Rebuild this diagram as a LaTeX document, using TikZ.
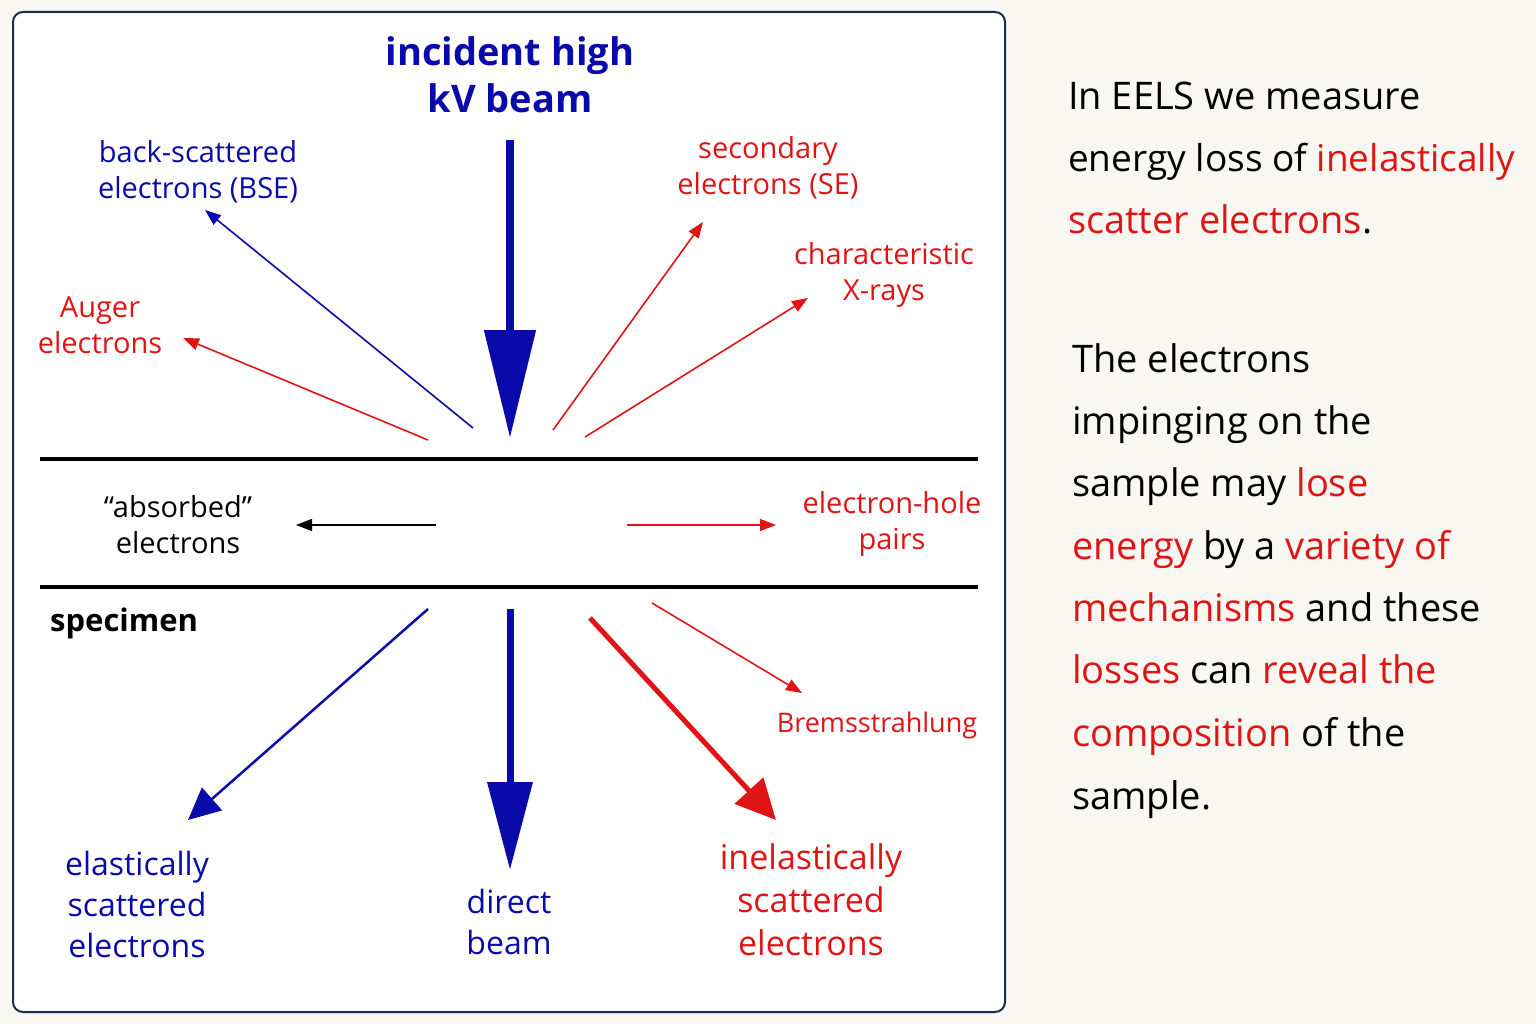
\documentclass[tikz,border=0pt]{standalone}
\usepackage{fontspec}
\setmainfont{Open Sans}
\usetikzlibrary{arrows.meta}
\definecolor{bl}{HTML}{0A0AAA}
\definecolor{rd}{HTML}{E01414}
\definecolor{bg}{HTML}{F8F7F1}
\definecolor{frame}{HTML}{1E2A4A}
\begin{document}
\begin{tikzpicture}[x=1pt,y=-1pt,
  lab/.style={align=center,inner sep=0pt,font=\fontsize{29}{36}\selectfont},
  big/.style={align=center,inner sep=0pt,font=\fontsize{32}{41}\selectfont},
  thin/.style={line width=1.6pt,-{Triangle[length=16pt,width=12pt]}},
  rt/.style={anchor=base west,inner sep=0pt,font=\fontsize{38}{48}\selectfont}]
\useasboundingbox (0,0) rectangle (1536,1024);
\fill[bg] (0,0) rectangle (1536,1024);
\draw[frame,line width=2pt,fill=white,rounded corners=10pt] (13,12) rectangle (1005,1012);
% title
\node[big,text=bl,font=\bfseries\fontsize{38}{47}\selectfont] (title) at (510,75) {incident high\\kV beam};
\coordinate (b0) at (510,140); \coordinate (b1) at (510,438);
\draw[bl,line width=8pt,-{Triangle[length=108pt,width=50pt]}] (b0) -- (b1);
% specimen lines
\coordinate (l1a) at (40,459); \coordinate (l1b) at (978,459);
\coordinate (l2a) at (40,587); \coordinate (l2b) at (978,587);
\draw[line width=4pt] (l1a) -- (l1b);
\draw[line width=4pt] (l2a) -- (l2b);
% labels
\node[lab,text=bl] (bse) at (198,172) {back-scattered\\electrons (BSE)};
\node[lab,text=rd] (aug) at (100,325) {Auger\\electrons};
\node[lab,text=rd] (se) at (768,168) {secondary\\electrons (SE)};
\node[lab,text=rd] (xr) at (884,275) {characteristic\\X-rays};
\node[lab] (abs) at (178,525) {“absorbed”\\electrons};
\node[lab,text=rd] (eh) at (892,524) {electron-hole\\pairs};
\node[lab,font=\bfseries\fontsize{31}{36}\selectfont,anchor=west] (spec) at (50,623) {specimen};
\node[big,text=bl] (el) at (137,904) {elastically\\scattered\\electrons};
\node[big,text=bl] (dir) at (509,922) {direct\\beam};
\node[big,text=rd,font=\fontsize{34}{43}\selectfont] (inel) at (811,900) {inelastically\\scattered\\electrons};
\node[lab,text=rd,font=\fontsize{27}{36}\selectfont] (brem) at (877,725) {Bremsstrahlung};
% arrows
\coordinate (s1) at (473,428); \coordinate (e1) at (205,210);
\draw[bl,thin] (s1) -- (e1);
\coordinate (s2) at (428,440); \coordinate (e2) at (183,338);
\draw[rd,thin] (s2) -- (e2);
\coordinate (s3) at (553,430); \coordinate (e3) at (703,222);
\draw[rd,thin] (s3) -- (e3);
\coordinate (s4) at (585,437); \coordinate (e4) at (808,298);
\draw[rd,thin] (s4) -- (e4);
\coordinate (s5) at (436,525); \coordinate (e5) at (296,525);
\draw[black,thin] (s5) -- (e5);
\coordinate (s6) at (627,525); \coordinate (e6) at (776,525);
\draw[rd,thin] (s6) -- (e6);
\coordinate (s7) at (652,603); \coordinate (e7) at (802,693);
\draw[rd,thin] (s7) -- (e7);
\coordinate (s8) at (428,609); \coordinate (e8) at (188,820);
\draw[bl,line width=2.5pt,-{Triangle[length=32pt,width=30pt]}] (s8) -- (e8);
\coordinate (s9) at (510,609); \coordinate (e9) at (510,870);
\draw[bl,line width=7pt,-{Triangle[length=88pt,width=44pt]}] (s9) -- (e9);
\coordinate (s10) at (590,618); \coordinate (e10) at (776,820);
\draw[rd,line width=5pt,-{Triangle[length=40pt,width=38pt]}] (s10) -- (e10);
% right text
\node[rt] (p1) at (1068,110) {In EELS we measure};
\node[rt,font=\fontsize{37}{48}\selectfont] (p2) at (1068,172) {energy loss of \textcolor{rd}{inelastically}};
\node[rt] (p3) at (1068,234) {\textcolor{rd}{scatter electrons}.};
\node[rt] (q1) at (1072,372) {The electrons};
\node[rt] (q2) at (1072,434) {impinging on the};
\node[rt] (q3) at (1072,496) {sample may \textcolor{rd}{lose}};
\node[rt] (q4) at (1072,559) {\textcolor{rd}{energy} by a \textcolor{rd}{variety of}};
\node[rt] (q5) at (1072,621) {\textcolor{rd}{mechanisms} and these};
\node[rt] (q6) at (1072,683) {\textcolor{rd}{losses} can \textcolor{rd}{reveal the}};
\node[rt] (q7) at (1072,746) {\textcolor{rd}{composition} of the};
\node[rt] (q8) at (1072,809) {sample.};
\end{tikzpicture}
\end{document}
